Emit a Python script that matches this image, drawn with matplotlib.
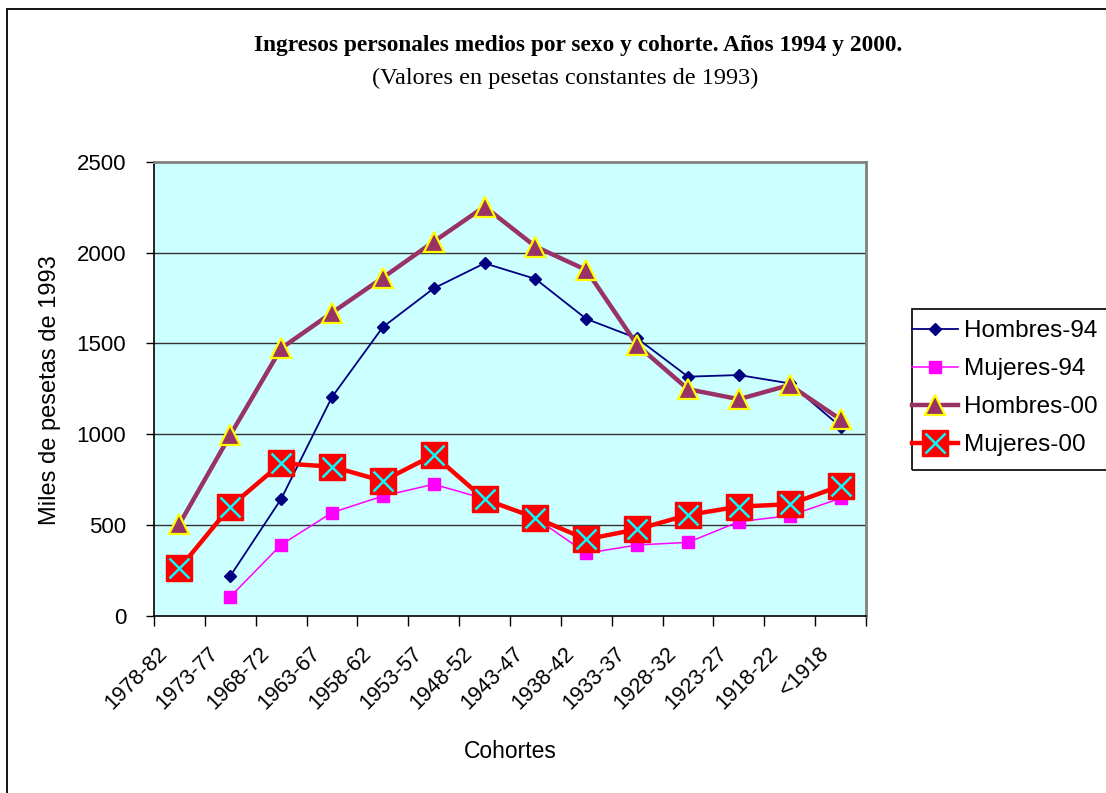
import numpy as np
import matplotlib
matplotlib.use('Agg')
import matplotlib.pyplot as plt
import matplotlib.transforms as mtransforms
from matplotlib.lines import Line2D
from matplotlib.patches import Rectangle
from matplotlib.legend_handler import HandlerTuple

plt.rcParams['font.family'] = ['Liberation Sans', 'DejaVu Sans']

cohortes = ['1978-82', '1973-77', '1968-72', '1963-67', '1958-62', '1953-57', '1948-52',
            '1943-47', '1938-42', '1933-37', '1928-32', '1923-27', '1918-22', '<1918']
hombres_94 = [np.nan, 220, 644, 1205, 1590, 1803, 1941, 1855, 1635, 1528, 1317, 1326, 1280, 1042]
mujeres_94 = [np.nan, 106, 392, 569, 660, 725, 645, 540, 345, 391, 405, 519, 552, 648]
hombres_00 = [506, 996, 1473, 1669, 1862, 2060, 2253, 2033, 1904, 1491, 1248, 1193, 1271, 1082]
mujeres_00 = [262, 602, 840, 822, 743, 886, 642, 541, 422, 477, 556, 602, 615, 716]

W, H = 1106, 793
fig = plt.figure(figsize=(W / 100, H / 100), dpi=100)
fig.patch.set_facecolor('white')

# outer chart frame (cut by the right/bottom image edge)
fig.add_artist(Rectangle((7 / W, -0.05), 1.2, 1 - 9 / H + 0.05, transform=fig.transFigure,
                         fill=False, edgecolor='black', lw=1.3))

ax = fig.add_axes([154 / W, 1 - 616 / H, 712 / W, 454.3 / H])
ax.set_facecolor('#CCFFFF')

x = np.arange(len(cohortes)) + 0.5

for v in [500, 1000, 1500, 2000]:
    ax.axhline(v, color='#333333', lw=1, zorder=1)

ax.plot(x, hombres_94, color='#000080', lw=1.3, marker='D', ms=6, mfc='#000080',
        mec='#000080', zorder=3)
ax.plot(x, mujeres_94, color='#FF00FF', lw=1.1, marker='s', ms=8, mfc='#FF00FF',
        mec='#FF00FF', zorder=3)
ax.plot(x, hombres_00, color='#993366', lw=3.2, marker='^', ms=14, mfc='#993366',
        mec='#FFFF00', mew=1.6, zorder=4)
ax.plot(x, mujeres_00, color='#FF0000', lw=3.2, marker='s', ms=19, mfc='#FF0000',
        mec='#FF0000', zorder=5)
ax.plot(x, mujeres_00, ls='none', marker='x', ms=15, mec='#00FFFF', mew=1.8, zorder=6)

ax.set_xlim(0, len(cohortes))
ax.set_ylim(0, 2500)
ax.set_yticks([0, 500, 1000, 1500, 2000, 2500])
ax.tick_params(axis='y', direction='out', length=6, width=1, labelsize=16, pad=14)

ax.set_xticks(x)
ax.set_xticklabels(cohortes)
ax.set_xticks(np.arange(len(cohortes) + 1), minor=True)
ax.tick_params(axis='x', which='major', length=0, labelsize=15.5, pad=25)
ax.tick_params(axis='x', which='minor', direction='out', length=7, width=1)
offset = mtransforms.ScaledTranslation(-0.15, 0, fig.dpi_scale_trans)
for lab in ax.get_xticklabels():
    lab.set_rotation(45)
    lab.set_ha('right')
    lab.set_va('center')
    lab.set_rotation_mode('anchor')
    lab.set_transform(lab.get_transform() + offset)

for s in ['left', 'bottom']:
    ax.spines[s].set_color('black')
    ax.spines[s].set_linewidth(1.2)
for s in ['top', 'right']:
    ax.spines[s].set_color('#808080')
    ax.spines[s].set_linewidth(2)

fig.text(50 / W, 1 - 390 / H, 'Miles de pesetas de 1993', rotation=90, fontsize=17,
         ha='center', va='center')
fig.text(510 / W, 1 - 752 / H, 'Cohortes', fontsize=16.5, ha='center', va='center')

fig.text(578 / W, 1 - 46 / H, 'Ingresos personales medios por sexo y cohorte. Años 1994 y 2000.',
         family='Liberation Serif', weight='bold', fontsize=16.8, ha='center', va='center')
fig.text(565 / W, 1 - 78 / H, '(Valores en pesetas constantes de 1993)',
         family='Liberation Serif', fontsize=17.5, ha='center', va='center')

# legend
h1 = Line2D([], [], color='#000080', lw=1.3, marker='D', ms=6, mfc='#000080', mec='#000080')
h2 = Line2D([], [], color='#FF00FF', lw=1.1, marker='s', ms=8, mfc='#FF00FF', mec='#FF00FF')
h3 = Line2D([], [], color='#993366', lw=3.2, marker='^', ms=14, mfc='#993366',
            mec='#FFFF00', mew=1.6)
h4a = Line2D([], [], color='#FF0000', lw=3.2, marker='s', ms=19, mfc='#FF0000', mec='#FF0000')
h4b = Line2D([], [], ls='none', marker='x', ms=15, mec='#00FFFF', mew=1.8)
fig.legend([h1, h2, h3, (h4a, h4b)], ['Hombres-94', 'Mujeres-94', 'Hombres-00', 'Mujeres-00'],
           handler_map={tuple: HandlerTuple(ndivide=1)},
           loc='upper left', bbox_to_anchor=(912 / W, 1 - 320 / H), frameon=False,
           fontsize=17.5, borderpad=0, borderaxespad=0, handlelength=1.9,
           handletextpad=0.25, labelspacing=0.66)
fig.add_artist(Rectangle((912 / W, 1 - 470 / H), 0.3, 161 / H, transform=fig.transFigure,
                         fill=False, edgecolor='black', lw=1.2))

fig.savefig('out.png', dpi=100)
